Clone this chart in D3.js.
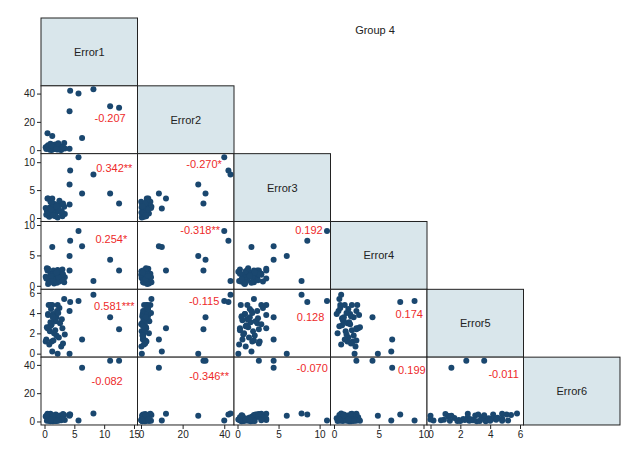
<!DOCTYPE html>
<html>
<head>
<meta charset="utf-8">
<script src="https://cdn.jsdelivr.net/npm/d3@7"></script>
<style>
  body { margin: 0; background: #fff; }
  text { font-family: "Liberation Sans", Arial, sans-serif; }
</style>
</head>
<body>
<script>
// variables of the matrix
let names = ['Error1', 'Error2', 'Error3', 'Error4', 'Error5', 'Error6']

// one entry per observation, same order in every array
let error1 = [4.3, 5.7, 8.2, 11.0, 12.5, 4.2, 6.3, 4.2, 0.5, 1.3,
  0.2, 0.6, 1.3, 1.0, 2.2, 3.3, 0.7, 1.5, 2.0, 1.8, 2.6, 1.1, 3.0, 0.9, 1.6, 2.4, 1.2, 0.8, 2.8, 1.9,
  1.4, 2.1, 0.4, 3.4, 1.7, 2.2, 1.0, 2.5, 0.3, 1.5, 2.9, 1.2, 0.6, 1.8, 2.3, 3.1, 0.9, 1.4, 2.0, 1.1]
let error2 = [42, 40, 43, 31, 30, 27.5, 8.6, 1.0, 12, 10,
  2.0, 3.5, 2.8, 4.5, 3.0, 5.0, 1.5, 0.8, 2.2, 1.2, 0.5, 1.8, 2.5, 0.3, 3.8, 1.0, 2.6, 1.4, 0.2, 4.0,
  0.6, 1.6, 2.4, 1.1, 3.2, 0.4, 1.9, 2.9, 0.9, 2.1, 1.3, 0.1, 3.0, 1.7, 4.8, 2.0, 1.0, 2.3, 0.7, 3.4]
let error3 = [8.5, 10.9, 7.8, 4.4, 2.6, 6.0, 4.4, 2.4, 3.5, 1.7,
  1.8, 3.5, 3.5, 2.9, 1.2, 2.0, 0.4, 0.9, 1.5, 0.6, 2.4, 1.1, 0.3, 1.9, 0.8, 1.4, 2.7, 0.2, 1.0, 2.2,
  0.5, 1.7, 1.3, 0.7, 2.5, 0.1, 1.6, 3.1, 0.6, 2.0, 1.2, 2.9, 0.9, 0.3, 1.8, 2.6, 1.0, 0.5, 2.1, 1.5]
let error4 = [7.4, 9.0, 0.8, 4.3, 2.5, 4.9, 6.5, 2.5, 2.5, 6.4,
  1.5, 2.8, 1.2, 2.0, 2.6, 0.6, 0.7, 1.8, 2.2, 1.0, 1.5, 0.9, 2.7, 1.3, 0.4, 1.6, 2.1, 0.8, 2.4, 1.1,
  1.9, 0.5, 2.9, 1.4, 0.9, 2.3, 1.7, 0.7, 1.2, 2.5, 1.0, 1.8, 0.3, 2.0, 1.4, 1.9, 0.6, 1.1, 2.2, 1.6]
let error5 = [5.1, 5.2, 5.8, 3.6, 2.4, 0.0, 1.4, 4.2, 2.5, 0.2,
  1.2, 3.8, 4.8, 4.8, 4.8, 5.4, 4.8, 3.9, 3.6, 3.3, 3.0, 2.8, 2.5, 2.2, 2.0, 1.6, 1.2, 0.9, 0.7, 3.2,
  3.7, 4.2, 2.6, 1.9, 3.5, 0.0, 3.1, 4.5, 1.4, 1.3, 3.4, 2.9, 3.9, 2.3, 4.0, 1.0, 2.7, 3.6, 1.8, 4.4]
let error6 = [5.0, 0.7, 5.6, 43, 43, 4.0, 38, 5.0, 5.5, 0.7,
  3.5, 1.0, 2.0, 5.5, 1.5, 4.5, 0.5, 1.2, 2.8, 0.3, 4.2, 0.9, 3.0, 1.7, 0.4, 2.4, 3.8, 1.3, 0.8, 4.9,
  0.2, 2.1, 0.6, 1.1, 3.2, 1.4, 0.1, 2.7, 4.0, 0.5, 1.8, 0.9, 2.3, 1.0, 0.6, 5.2, 1.6, 4.4, 0.3, 1.2]
let columns = [error1, error2, error3, error4, error5, error6]

// tick labels per variable
let ticks = [[0, 5, 10, 15], [0, 20, 40], [0, 5, 10], [0, 5, 10], [0, 2, 4, 6], [0, 20, 40]]

// correlation labels: row variable, column variable, text, anchor (x value, y value)
let corrRow = [1, 2, 2, 3, 3, 3, 4, 4, 4, 4, 5, 5, 5, 5, 5]
let corrCol = [0, 0, 1, 0, 1, 2, 0, 1, 2, 3, 0, 1, 2, 3, 4]
let corrText = ['-0.207', '0.342**', '-0.270*', '0.254*', '-0.318**', '0.192',
  '0.581***', '-0.115', '0.128', '0.174', '-0.082', '-0.346**', '-0.070', '0.199', '-0.011']
let corrX = [11, 11.7, 30.3, 11.2, 28.4, 8.7, 11.7, 30.3, 8.9, 8.4, 10.5, 32.7, 9.1, 8.7, 4.9]
let corrY = [22.5, 8.9, 9.6, 7.7, 9.2, 9.2, 4.7, 5.2, 3.6, 3.9, 28.7, 32, 37.8, 36.4, 33.6]

let leftX = 41, topY = 18, cellW = 96.5, cellH = 67.83, pad = 3.5
let navy = '#1a476f'

let svg = d3.select('body').append('svg')
  .attr('width', 637)
  .attr('height', 456)

let domainOf = i => [0, Math.max(d3.max(columns[i]), d3.max(ticks[i]))]

let xScale = i => d3.scaleLinear().domain(domainOf(i))
  .range([leftX + i * cellW + pad, leftX + (i + 1) * cellW - pad])
let yScale = i => d3.scaleLinear().domain(domainOf(i))
  .range([topY + (i + 1) * cellH - pad, topY + i * cellH + pad])

svg.append('text')
  .attr('x', 375).attr('y', 34)
  .attr('text-anchor', 'middle')
  .attr('font-size', 11)
  .attr('fill', '#222')
  .text('Group 4')

for (let r = 0; r < names.length; r++) {
  for (let c = 0; c <= r; c++) {
    let cx = leftX + c * cellW, cy = topY + r * cellH
    let g = svg.append('g')

    g.append('rect')
      .attr('x', cx).attr('y', cy)
      .attr('width', cellW).attr('height', cellH)
      .attr('fill', r === c ? '#d9e6eb' : '#fff')
      .attr('stroke', '#222')
      .attr('stroke-width', 1)

    if (r === c) {
      g.append('text')
        .attr('x', cx + cellW / 2).attr('y', cy + cellH / 2 + 4)
        .attr('text-anchor', 'middle')
        .attr('font-size', 11)
        .attr('fill', '#222')
        .text(names[r])
      continue
    }

    let x = xScale(c), y = yScale(r)
    g.selectAll('circle')
      .data(d3.range(error1.length))
      .join('circle')
      .attr('cx', k => x(columns[c][k]))
      .attr('cy', k => y(columns[r][k]))
      .attr('r', 3)
      .attr('fill', navy)
  }
}

// correlations
corrText.forEach((t, k) => {
  let x = xScale(corrCol[k]), y = yScale(corrRow[k])
  svg.append('text')
    .attr('x', x(corrX[k])).attr('y', y(corrY[k]) + 4)
    .attr('text-anchor', 'middle')
    .attr('font-size', 11)
    .attr('fill', '#ee2a2a')
    .text(t)
})

// left axes (rows 1..5)
for (let r = 1; r < names.length; r++) {
  let ax = svg.append('g')
    .attr('transform', 'translate(' + leftX + ',0)')
    .call(d3.axisLeft(yScale(r)).tickValues(ticks[r]).tickFormat(d3.format('d'))
      .tickSize(4).tickPadding(2))
  ax.select('.domain').remove()
  ax.selectAll('text').attr('font-size', 10).attr('fill', '#222')
  ax.selectAll('line').attr('stroke', '#222')
}

// bottom axes (cols 0..4)
for (let c = 0; c < names.length - 1; c++) {
  let ax = svg.append('g')
    .attr('transform', 'translate(0,' + (topY + names.length * cellH) + ')')
    .call(d3.axisBottom(xScale(c)).tickValues(ticks[c]).tickFormat(d3.format('d'))
      .tickSize(4).tickPadding(2))
  ax.select('.domain').remove()
  ax.selectAll('text').attr('font-size', 10).attr('fill', '#222')
  ax.selectAll('line').attr('stroke', '#222')
}
</script>
</body>
</html>
